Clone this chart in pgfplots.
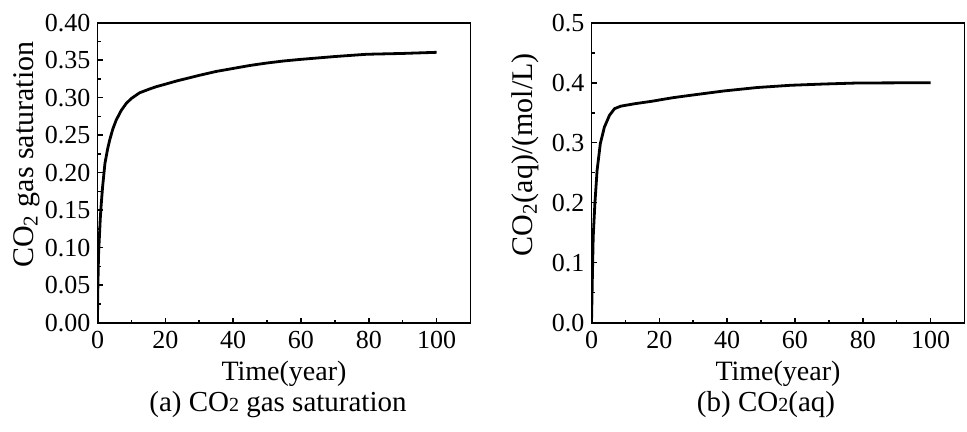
\documentclass[border=0pt]{standalone}
\usepackage{fontspec}
\setmainfont{Liberation Serif}
\usepackage{pgfplots}
\pgfplotsset{compat=1.18}

% common look of both panels
\pgfplotsset{
    panel/.style={
        scale only axis,
        width=186.5pt, height=150pt,
        anchor=south west,
        xmin=0, xmax=110,
        xtick={0,20,40,60,80,100},
        minor tick num=1,
        tick pos=left,
        tick align=inside,
        major tick length=2.5pt,
        minor tick length=1.5pt,
        axis line style={line width=0.9pt},
        every tick/.style={black, line width=0.8pt},
        /pgf/number format/assume math mode=true,
        tick label style={font=\fontsize{13}{13}\selectfont},
        xticklabel style={anchor=base, yshift=-13pt},
        yticklabel style={anchor=east, inner sep=0pt, xshift=-3.4pt},
        xlabel style={at={(axis description cs:0.5,0)}, anchor=base, yshift=-28.7pt,
            font=\fontsize{14}{14}\selectfont},
        ylabel style={anchor=base, font=\fontsize{15}{15}\selectfont},
        xlabel={Time(year)},
    },
    curve/.style={black, line width=1.4pt, line join=round, no marks},
}

\begin{document}
\begin{tikzpicture}
\path[use as bounding box] (0,0) rectangle (483.5pt,216pt);

% === (a) gas saturation ===
\begin{axis}[panel, name=A,
    at={(48.75pt,54.65pt)},
    ymin=0, ymax=0.4,
    ytick={0,0.05,0.1,0.15,0.2,0.25,0.3,0.35,0.4},
    yticklabel style={/pgf/number format/.cd, fixed, fixed zerofill, precision=2},
    ylabel={CO\textsubscript{2} gas saturation},
    ylabel style={at={(axis description cs:-0.172,0.56)}},
]
\addplot[curve] coordinates {
    (0,0) (0.05,0.03) (0.1,0.045) (0.3,0.09) (0.8,0.137) (1.0,0.152)
    (1.5,0.181) (2.2,0.2125) (3,0.232) (3.6,0.2436) (4.5,0.258)
    (5.5,0.270) (7,0.283) (8.5,0.2925) (10,0.299) (12.4,0.3065)
    (15,0.311) (17.2,0.3145) (20,0.318) (23.5,0.3225) (30.2,0.330)
    (35,0.335) (40,0.339) (45,0.343) (49.9,0.3462) (55,0.349)
    (59.7,0.351) (65,0.353) (69.5,0.3547) (75,0.3565) (79.4,0.3579)
    (90,0.359) (100,0.3605)
};
\end{axis}
\node[anchor=base, font=\fontsize{14.5}{14.5}\selectfont]
    at ([xshift=-3pt, yshift=-44.5pt]A.south)
    {(a) CO{\fontsize{10}{10}\selectfont 2} gas saturation};

% === (b) CO2(aq) ===
\begin{axis}[panel, name=B,
    at={(295.75pt,54.65pt)},
    ymin=0, ymax=0.5,
    ytick={0,0.1,0.2,0.3,0.4,0.5},
    yticklabel style={/pgf/number format/.cd, fixed, fixed zerofill, precision=1},
    ylabel={CO\textsubscript{2}(aq)/(mol/L)},
    ylabel style={at={(axis description cs:-0.158,0.56)}},
]
\addplot[curve] coordinates {
    (0,0) (0.2,0.06) (0.5,0.143) (1.0,0.199) (1.65,0.254) (2.6,0.2985)
    (3.8,0.326) (5.3,0.3456) (6.8,0.3568) (8.7,0.361) (12.8,0.365)
    (17.7,0.369) (24,0.375) (29.2,0.379) (39,0.3862) (48.9,0.392)
    (58.7,0.3957) (68.5,0.3978) (78.4,0.3995) (100,0.400)
};
\end{axis}
\node[anchor=base, font=\fontsize{14.5}{14.5}\selectfont]
    at ([xshift=-6pt, yshift=-44.5pt]B.south)
    {(b) CO{\fontsize{10}{10}\selectfont 2}(aq)};
\end{tikzpicture}
\end{document}
